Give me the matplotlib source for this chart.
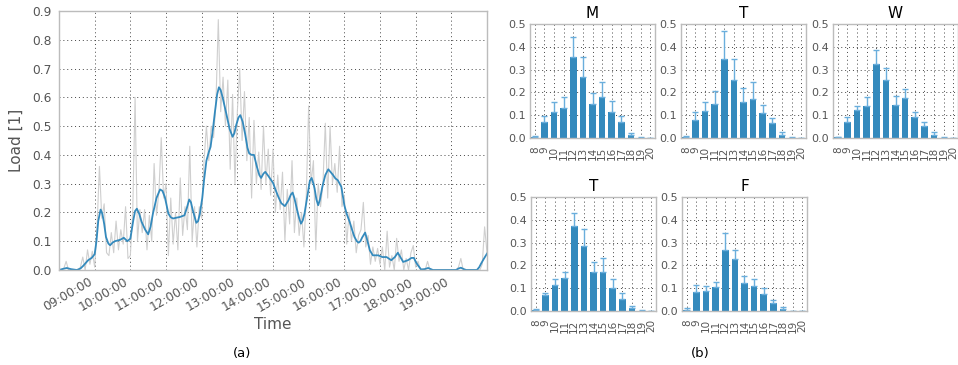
import numpy as np
import matplotlib
matplotlib.use('Agg')
import matplotlib.pyplot as plt

# ---- data: panel (a) ----
# raw load, sampled every 4 minutes from 08:00 to 20:00
raw_load = [
    0.0, 0.0, 0.005, 0.03, 0.0, 0.0, 0.0, 0.0, 0.0, 0.01, 0.045, 0.0, 0.07, 0.02, 0.065,
    0.01, 0.15, 0.36, 0.18, 0.23, 0.06, 0.05, 0.13, 0.06, 0.17, 0.07, 0.14, 0.09, 0.22, 0.04,
    0.05, 0.20, 0.60, 0.10, 0.21, 0.13, 0.21, 0.07, 0.19, 0.10, 0.37, 0.19, 0.27, 0.46, 0.25,
    0.30, 0.05, 0.25, 0.09, 0.20, 0.07, 0.32, 0.12, 0.22, 0.14, 0.43, 0.10, 0.22, 0.08, 0.22,
    0.18, 0.38, 0.50, 0.38, 0.50, 0.46, 0.58, 0.87, 0.55, 0.67, 0.50, 0.66, 0.35, 0.61, 0.30,
    0.55, 0.70, 0.45, 0.62, 0.38, 0.53, 0.25, 0.52, 0.30, 0.41, 0.28, 0.50, 0.30, 0.42, 0.26,
    0.42, 0.20, 0.33, 0.21, 0.34, 0.10, 0.28, 0.16, 0.38, 0.13, 0.25, 0.12, 0.20, 0.08, 0.26,
    0.57, 0.30, 0.38, 0.07, 0.30, 0.22, 0.30, 0.51, 0.25, 0.50, 0.30, 0.37, 0.27, 0.43, 0.22,
    0.26, 0.09, 0.20, 0.10, 0.17, 0.06, 0.12, 0.14, 0.235, 0.08, 0.12, 0.02, 0.08, 0.03, 0.075,
    0.02, 0.08, 0.0, 0.135, 0.01, 0.05, 0.0, 0.11, 0.03, 0.07, 0.0, 0.04, 0.0, 0.06, 0.085,
    0.01, 0.03, 0.0, 0.0, 0.0, 0.03, 0.0, 0.0, 0.0, 0.0, 0.0, 0.0, 0.0, 0.0, 0.0,
    0.0, 0.0, 0.0, 0.01, 0.04, 0.0, 0.0, 0.0, 0.0, 0.0, 0.0, 0.0, 0.0, 0.02, 0.15,
    0.06,
]
raw_step_min = 4

# smoothed load (time, value)
smooth_times = [
    "8:00", "8:07", "8:13", "8:20", "8:30", "8:36", "8:41", "8:49", "8:55", "9:00",
    "9:03", "9:06", "9:10", "9:13", "9:16", "9:19", "9:23", "9:26", "9:30", "9:34",
    "9:43", "9:49", "9:55", "10:00", "10:05", "10:08", "10:11", "10:15", "10:19", "10:25",
    "10:30", "10:34", "10:38", "10:44", "10:50", "10:54", "10:58", "11:01", "11:04", "11:08",
    "11:12", "11:18", "11:23", "11:31", "11:35", "11:39", "11:42", "11:45", "11:51", "11:54",
    "11:57", "12:01", "12:04", "12:08", "12:12", "12:15", "12:19", "12:22", "12:26", "12:29",
    "12:32", "12:35", "12:42", "12:47", "12:52", "12:55", "12:58", "13:02", "13:05", "13:09",
    "13:13", "13:17", "13:20", "13:24", "13:28", "13:33", "13:37", "13:40", "13:44", "13:47",
    "13:51", "13:55", "14:00", "14:04", "14:09", "14:14", "14:20", "14:26", "14:30", "14:33",
    "14:36", "14:40", "14:44", "14:47", "14:50", "14:53", "14:58", "15:02", "15:05", "15:08",
    "15:10", "15:13", "15:16", "15:19", "15:23", "15:28", "15:33", "15:37", "15:41", "15:45",
    "15:49", "15:55", "16:00", "16:04", "16:09", "16:13", "16:17", "16:21", "16:24", "16:27",
    "16:30", "16:35", "16:39", "16:43", "16:48", "16:57", "17:04", "17:11", "17:19", "17:25",
    "17:30", "17:35", "17:39", "17:47", "17:53", "17:57", "18:01", "18:04", "18:09", "18:15",
    "18:21", "18:29", "19:08", "19:12", "19:16", "19:21", "19:25", "19:43", "19:47", "19:50",
    "19:55", "20:00",
]
smooth_vals = [
    0.0, 0.004, 0.007, 0.003, 0.0, 0.005, 0.015, 0.034, 0.042, 0.055,
    0.10, 0.17, 0.21, 0.195, 0.16, 0.115, 0.092, 0.086, 0.095, 0.10,
    0.105, 0.112, 0.10, 0.109, 0.173, 0.205, 0.213, 0.195, 0.167, 0.14,
    0.124, 0.15, 0.196, 0.25, 0.28, 0.275, 0.254, 0.225, 0.196, 0.183,
    0.179, 0.182, 0.184, 0.19, 0.215, 0.245, 0.235, 0.208, 0.164, 0.17,
    0.196, 0.25, 0.312, 0.38, 0.41, 0.428, 0.49, 0.544, 0.61, 0.635,
    0.625, 0.602, 0.538, 0.49, 0.463, 0.475, 0.503, 0.53, 0.538, 0.515,
    0.474, 0.425, 0.405, 0.40, 0.40, 0.358, 0.33, 0.32, 0.335, 0.341,
    0.33, 0.318, 0.303, 0.28, 0.254, 0.232, 0.222, 0.242, 0.262, 0.269,
    0.25, 0.213, 0.18, 0.161, 0.172, 0.196, 0.26, 0.31, 0.32, 0.30,
    0.283, 0.245, 0.225, 0.245, 0.289, 0.33, 0.35, 0.34, 0.33, 0.318,
    0.312, 0.289, 0.225, 0.195, 0.167, 0.14, 0.115, 0.10, 0.095, 0.10,
    0.113, 0.13, 0.10, 0.068, 0.051, 0.051, 0.045, 0.045, 0.034, 0.045,
    0.06, 0.042, 0.028, 0.034, 0.042, 0.042, 0.025, 0.016, 0.002, 0.003,
    0.007, 0.0, 0.0, 0.005, 0.008, 0.003, 0.0, 0.0, 0.01, 0.022,
    0.04, 0.057,
]
time_ticks = ["09:00:00", "10:00:00", "11:00:00", "12:00:00", "13:00:00", "14:00:00",
              "15:00:00", "16:00:00", "17:00:00", "18:00:00", "19:00:00"]

# ---- data: panel (b) ----
hours = ["8", "9", "10", "11", "12", "13", "14", "15", "16", "17", "18", "19", "20"]
days = ["M", "T", "W", "T", "F"]
day_mean = [
    [0.003, 0.069, 0.114, 0.132, 0.355, 0.269, 0.148, 0.181, 0.115, 0.069, 0.013, 0.002, 0.001],
    [0.003, 0.077, 0.117, 0.148, 0.348, 0.254, 0.158, 0.173, 0.108, 0.064, 0.015, 0.002, 0.001],
    [0.003, 0.070, 0.121, 0.142, 0.326, 0.254, 0.146, 0.175, 0.091, 0.054, 0.013, 0.002, 0.0],
    [0.003, 0.070, 0.114, 0.146, 0.374, 0.284, 0.170, 0.173, 0.101, 0.054, 0.013, 0.002, 0.001],
    [0.004, 0.085, 0.088, 0.105, 0.269, 0.228, 0.123, 0.110, 0.076, 0.037, 0.007, 0.001, 0.0],
]
day_upper = [
    [0.007, 0.095, 0.156, 0.181, 0.441, 0.357, 0.197, 0.246, 0.164, 0.098, 0.020, 0.004, 0.002],
    [0.008, 0.113, 0.156, 0.208, 0.469, 0.345, 0.219, 0.244, 0.143, 0.089, 0.025, 0.004, 0.001],
    [0.005, 0.092, 0.140, 0.178, 0.387, 0.306, 0.183, 0.213, 0.113, 0.069, 0.025, 0.003, 0.0],
    [0.008, 0.080, 0.139, 0.171, 0.428, 0.358, 0.215, 0.231, 0.140, 0.079, 0.023, 0.003, 0.002],
    [0.012, 0.113, 0.108, 0.127, 0.344, 0.269, 0.155, 0.139, 0.099, 0.048, 0.016, 0.002, 0.0],
]

BLUE = '#348ABD'
ERR = '#6aaedc'
GREY_TXT = '#555555'
SPINE = '#bcbcbc'


def to_min(s):
    h, m = s.split(':')
    return (int(h) - 8) * 60 + int(m)


def style_axes(ax, labelsize):
    for sp in ax.spines.values():
        sp.set_color(SPINE)
        sp.set_linewidth(1.0)
    ax.grid(True, linestyle=(0, (1, 3)), color='#444444', linewidth=0.7)
    ax.set_axisbelow(True)
    ax.tick_params(length=0, labelsize=labelsize, colors=GREY_TXT)


fig = plt.figure(figsize=(9.58, 3.65), dpi=100)

# panel (a)
ax = fig.add_axes([59 / 958, 95 / 365, 428 / 958, 259 / 365])
raw_x = np.arange(len(raw_load)) * raw_step_min
ax.plot(raw_x, raw_load, color='#cfcfcf', linewidth=0.8)
ax.plot([to_min(t) for t in smooth_times], smooth_vals, color=BLUE, linewidth=1.3)
ax.set_xlim(0, 720)
ax.set_ylim(0, 0.9)
ax.set_xticks([60 * (i + 1) for i in range(len(time_ticks))])
ax.set_xticklabels(time_ticks, rotation=30, ha='right')
ax.set_yticks(np.arange(0, 0.91, 0.1))
ax.set_yticklabels(['%.1f' % v for v in np.arange(0, 0.91, 0.1)])
style_axes(ax, 8.8)
ax.tick_params(axis='x', pad=4)
ax.tick_params(axis='y', pad=5)
ax.set_ylabel('Load [1]', fontsize=11, color=GREY_TXT, labelpad=6)
ax.set_xlabel('Time', fontsize=11, color=GREY_TXT, labelpad=2)
fig.text(242 / 958, 1 - 353 / 365, '(a)', ha='center', va='center', fontsize=9.5)

# panel (b)
boxes = [(530, 24), (681, 24), (833, 24), (531, 197), (682, 197)]
x = np.arange(len(hours))
for i, (left, top) in enumerate(boxes):
    bx = fig.add_axes([left / 958, 1 - (top + 114) / 365, 125 / 958, 114 / 365])
    mean = np.array(day_mean[i])
    up = np.array(day_upper[i]) - mean
    bx.bar(x, mean, width=0.7, color=BLUE, linewidth=0,
           yerr=[np.zeros_like(mean), up], ecolor=ERR,
           error_kw=dict(elinewidth=1.0, capsize=2.5, capthick=1.0))
    bx.set_xlim(-0.5, len(hours) - 0.5)
    bx.set_ylim(0, 0.5)
    bx.set_xticks(x)
    bx.set_xticklabels(hours, rotation=90)
    bx.set_yticks(np.arange(0, 0.51, 0.1))
    bx.set_yticklabels(['%.1f' % v for v in np.arange(0, 0.51, 0.1)])
    style_axes(bx, 8)
    bx.tick_params(axis='x', labelsize=7.5, pad=6)
    bx.tick_params(axis='y', pad=3)
    bx.set_title(days[i], fontsize=11, pad=4)

fig.text(700 / 958, 1 - 354 / 365, '(b)', ha='center', va='center', fontsize=9.5)

fig.savefig('out.png', dpi=100)
